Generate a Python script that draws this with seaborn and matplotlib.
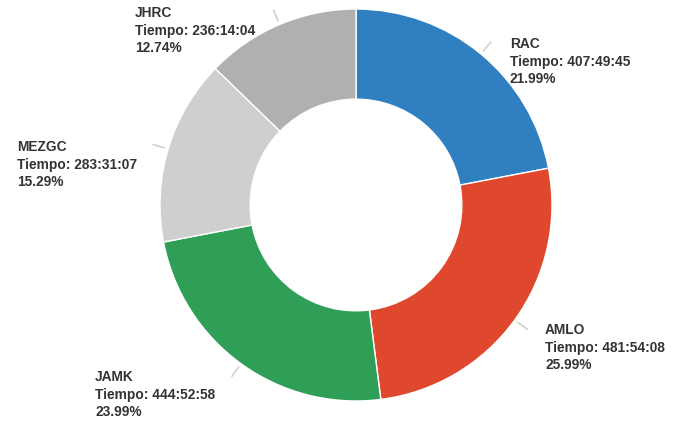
import numpy as np
import matplotlib

matplotlib.use("Agg")
import matplotlib.pyplot as plt
import seaborn as sns

# data
names = ["RAC", "AMLO", "JAMK", "MEZGC", "JHRC"]
tiempos = ["407:49:45", "481:54:08", "444:52:58", "283:31:07", "236:14:04"]
porcentajes = [21.99, 25.99, 23.99, 15.29, 12.74]
colors = ["#2f7fc1", "#e0482e", "#2f9e57", "#cfcfcf", "#b1b0b1"]

sns.set_theme(style="white")
plt.rcParams["font.family"] = ["Liberation Sans", "DejaVu Sans"]


def to_hours(t):
    h, m, s = (int(v) for v in t.split(":"))
    return h + m / 60 + s / 3600


hours = [to_hours(t) for t in tiempos]

W, H = 673, 421
cx, cy, R = 356, 205, 196
fig = plt.figure(figsize=(W / 100, H / 100), dpi=100)
ax = fig.add_axes([(cx - R) / W, (H - cy - R) / H, 2 * R / W, 2 * R / H])

wedges, _ = ax.pie(hours, colors=colors, startangle=90, counterclock=False,
                   radius=1, wedgeprops=dict(width=0.46, edgecolor="white", linewidth=1))
ax.set_xlim(-1, 1)
ax.set_ylim(-1, 1)
ax.set_aspect("equal")
ax.axis("off")

# label top-left corners in pixels
label_px = [(510, 37), (545, 323), (95, 370), (17, 140), (135, 6)]

for w, name, t, p, (lx, ly) in zip(wedges, names, tiempos, porcentajes, label_px):
    ang = np.deg2rad((w.theta1 + w.theta2) / 2)
    x0, y0 = 1.02 * np.cos(ang), 1.02 * np.sin(ang)
    x1, y1 = 1.08 * np.cos(ang), 1.08 * np.sin(ang)
    ax.plot([x0, x1], [y0, y1], color="#d0d0d0", lw=1.2, clip_on=False)
    fig.text(lx / W, 1 - ly / H, f"{name}\nTiempo: {t}\n{p:.2f}%",
             ha="left", va="top", fontsize=9.9, fontweight="bold",
             color="#333333", linespacing=1.32)

fig.savefig("out.png", dpi=100)
